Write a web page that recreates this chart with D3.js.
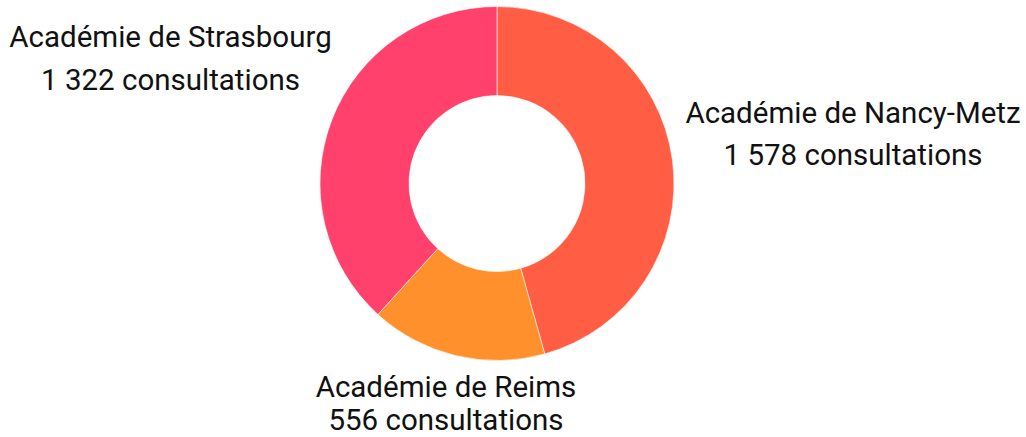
<!DOCTYPE html>
<html>
<head>
<meta charset="utf-8">
<script src="https://cdn.jsdelivr.net/npm/d3@7"></script>
<style>
  html, body { margin: 0; padding: 0; background: #fff; }
  svg text { font-family: Roboto, "Noto Sans", sans-serif; font-size: 29.5px; fill: #111; }
</style>
</head>
<body>
<svg id="chart" width="1026" height="437"></svg>
<script>
const academies = ['Académie de Nancy-Metz', 'Académie de Reims', 'Académie de Strasbourg']
const consultations = [1578, 556, 1322]
const colors = ['#ff5e45', '#ff902b', '#ff416c']

const width = 1026, height = 437
const cx = 497, cy = 183.5
const outer = 177, inner = 88

const fmt = n => d3.format(',')(n).replace(/,/g, ' ')

const data = academies.map( ( name, i ) => ( { name, value: consultations[i], color: colors[i] } ) )

const pie = d3.pie().value( d => d.value ).sort(null)
const arc = d3.arc().innerRadius(inner).outerRadius(outer)

const svg = d3.select('#chart')
const g = svg.append('g').attr('transform', `translate(${cx},${cy})`)

const arcs = pie(data)

g.selectAll('path')
  .data(arcs)
  .enter().append('path')
    .attr('d', arc)
    .attr('fill', d => d.data.color)
    .attr('stroke', '#fff')
    .attr('stroke-width', 0.6)

// label positions beside each slice (first baseline + line gap)
const labelPos = [
  { x: 853, y: 123, gap: 42 },
  { x: 446, y: 397, gap: 33 },
  { x: 170.5, y: 47, gap: 43 }
]

const labels = svg.selectAll('g.label')
  .data(arcs)
  .enter().append('g')
    .attr('class', 'label')
    .attr('transform', (d, i) => `translate(${labelPos[i].x},${labelPos[i].y})`)

labels.append('text')
  .attr('text-anchor', 'middle')
  .text( d => d.data.name )

labels.append('text')
  .attr('text-anchor', 'middle')
  .attr('y', (d, i) => labelPos[i].gap)
  .text( d => `${fmt(d.data.value)} consultations` )
</script>
</body>
</html>
